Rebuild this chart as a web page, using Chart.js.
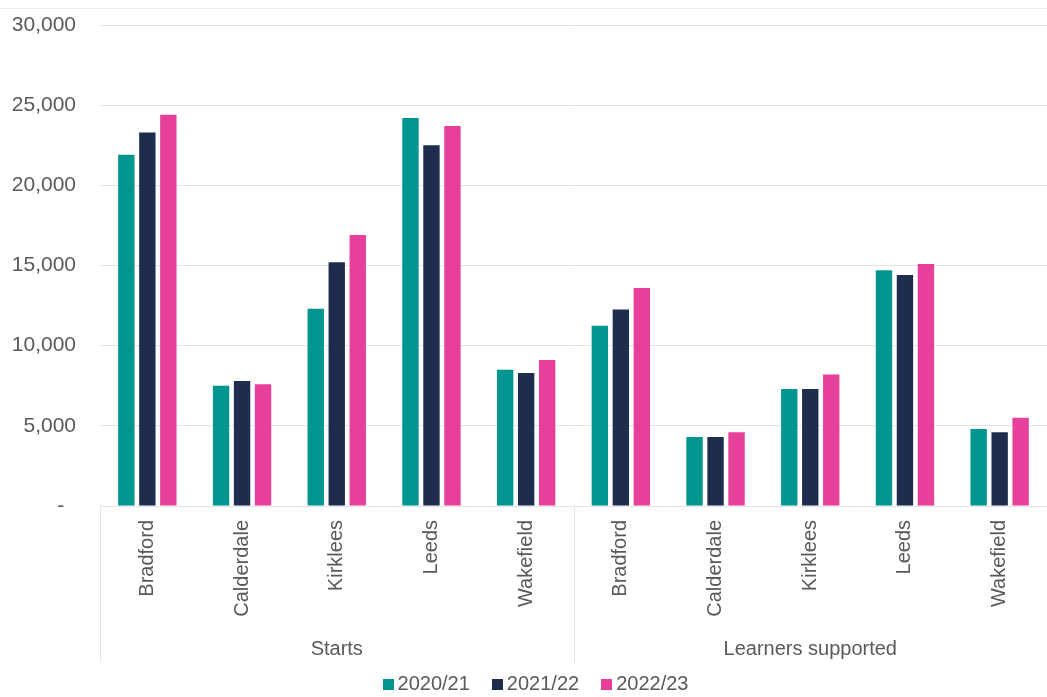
<!DOCTYPE html>
<html>
<head>
<meta charset="utf-8">
<script src="https://cdn.jsdelivr.net/npm/chart.js@4"></script>
<style>
  html, body { margin: 0; padding: 0; background: #ffffff; }
  #wrap { position: relative; width: 1047px; height: 697px; }
  #topline { position: absolute; left: 0; top: 8px; width: 1047px; height: 1px; background: #ececec; }
  canvas { position: absolute; left: 0; top: 0; }
</style>
</head>
<body>
<div id="wrap">
  <div id="topline"></div>
  <canvas id="c" width="1047" height="697"></canvas>
</div>
<script>
// Local authorities, repeated for each measure group
const areas = ['Bradford', 'Calderdale', 'Kirklees', 'Leeds', 'Wakefield'];
const groups = ['Starts', 'Learners supported'];
const seriesNames = ['2020/21', '2021/22', '2022/23'];

// Values: first five = Starts, last five = Learners supported
const y2020_21 = [21900, 7500, 12300, 24200, 8500, 11250, 4300, 7300, 14700, 4800];
const y2021_22 = [23300, 7800, 15200, 22500, 8300, 12250, 4300, 7300, 14400, 4600];
const y2022_23 = [24400, 7600, 16900, 23700, 9100, 13600, 4600, 8200, 15100, 5500];

const yTicks = [0, 5000, 10000, 15000, 20000, 25000, 30000];

const colors = ['#00958f', '#1e2d4d', '#e6409a'];
const textColor = '#595959';
const lineColor = '#e3e3e3';
const fontFamily = '"Liberation Sans", Arial, sans-serif';

const labels = [];
groups.forEach(() => areas.forEach(a => labels.push(a)));

// Outer group captions with dividers, plus a compact legend row
const groupAxisPlugin = {
  id: 'groupAxis',
  afterDraw(chart) {
    const x = chart.scales.x;
    const ctx = chart.ctx;
    const n = labels.length;
    const w = (x.right - x.left) / n;
    const yTop = chart.chartArea.bottom;
    const yBottom = yTop + 156;
    ctx.save();
    ctx.strokeStyle = lineColor;
    ctx.lineWidth = 1;
    ctx.font = '20px ' + fontFamily;
    let start = 0;
    groups.forEach(g => {
      const end = start + areas.length - 1;
      const left = x.getPixelForTick(start) - w / 2;
      const right = x.getPixelForTick(end) + w / 2;
      ctx.beginPath();
      ctx.moveTo(Math.round(left) + 0.5, yTop);
      ctx.lineTo(Math.round(left) + 0.5, yBottom);
      ctx.stroke();
      ctx.fillStyle = textColor;
      ctx.textAlign = 'center';
      ctx.textBaseline = 'middle';
      ctx.fillText(g, (left + right) / 2, yTop + 143);
      start = end + 1;
    });

    // legend row
    const box = 11, gap = 4, spacing = 22;
    const items = chart.data.datasets.map(ds => ({
      text: ds.label, color: ds.backgroundColor, tw: ctx.measureText(ds.label).width
    }));
    const total = items.reduce((s, it) => s + box + gap + it.tw, 0) + spacing * (items.length - 1);
    let lx = chart.width / 2 + 12 - total / 2;
    const ly = yTop + 178;
    ctx.textAlign = 'left';
    items.forEach(it => {
      ctx.fillStyle = it.color;
      ctx.fillRect(Math.round(lx), Math.round(ly - box / 2), box, box);
      ctx.fillStyle = textColor;
      ctx.fillText(it.text, lx + box + gap, ly);
      lx += box + gap + it.tw + spacing;
    });
    ctx.restore();
  }
};

new Chart(document.getElementById('c'), {
  type: 'bar',
  data: {
    labels: labels,
    datasets: [
      { label: seriesNames[0], data: y2020_21, backgroundColor: colors[0] },
      { label: seriesNames[1], data: y2021_22, backgroundColor: colors[1] },
      { label: seriesNames[2], data: y2022_23, backgroundColor: colors[2] }
    ]
  },
  options: {
    responsive: false,
    animation: false,
    devicePixelRatio: 1,
    layout: { padding: { top: 25, left: 0, right: 0, bottom: 0 } },
    datasets: { bar: { categoryPercentage: 0.665, barPercentage: 0.78 } },
    plugins: {
      tooltip: { enabled: false },
      legend: { display: false }
    },
    scales: {
      x: {
        grid: { display: false, drawTicks: false },
        border: { display: true, color: lineColor },
        ticks: {
          color: textColor,
          font: { size: 20, family: fontFamily },
          maxRotation: 90,
          minRotation: 90,
          padding: 14,
          autoSkip: false
        },
        afterFit(scale) { scale.height = 191; }
      },
      y: {
        min: 0,
        max: 30000,
        afterBuildTicks(scale) { scale.ticks = yTicks.map(v => ({ value: v })); },
        grid: { color: lineColor, drawTicks: false },
        border: { display: false },
        ticks: {
          color: textColor,
          font: { size: 21, family: fontFamily },
          padding: 24,
          callback: v => v === 0 ? '-  ' : v.toLocaleString('en-US')
        },
        afterFit(scale) {
          scale.width = 100;
          scale.paddingTop = 12;
          scale.paddingBottom = 0;
        }
      }
    }
  },
  plugins: [groupAxisPlugin]
});
</script>
</body>
</html>
